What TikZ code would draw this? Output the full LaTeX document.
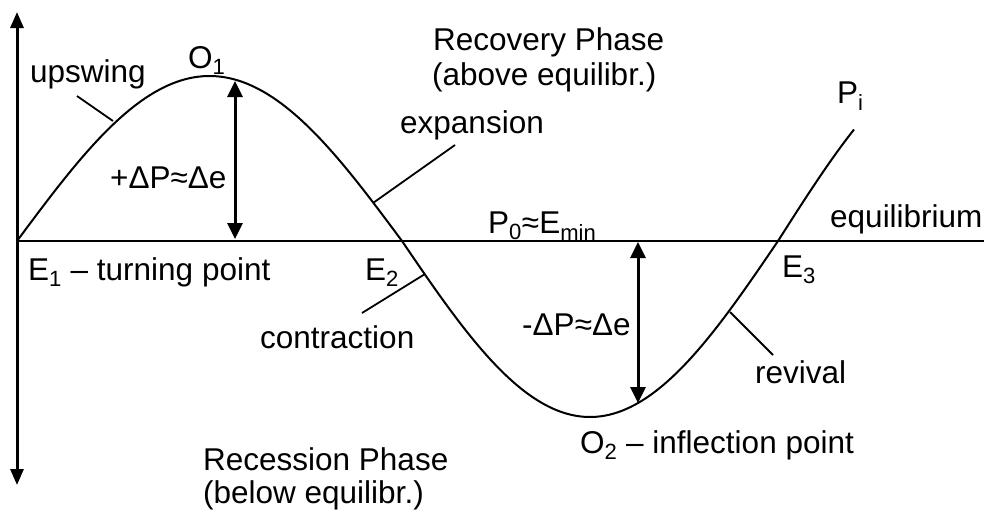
\documentclass[tikz,border=0pt]{standalone}
\usepackage{fontspec}
\setmainfont{Liberation Sans}
\usetikzlibrary{arrows.meta}
\begin{document}
\begin{tikzpicture}[x=1pt,y=-1pt,
  lbl/.style={inner sep=0pt, anchor=base west, font=\fontsize{31.5}{37.8}\selectfont},
  curve/.style={line width=2pt},
  leader/.style={line width=1.8pt},
  axis/.style={line width=3pt, {Triangle[width=13pt,length=16pt]}-{Triangle[width=13pt,length=16pt]}},
  eqline/.style={line width=2.5pt},
  dbl/.style={line width=3pt, {Triangle[width=15pt,length=16pt]}-{Triangle[width=15pt,length=16pt]}}
]
\useasboundingbox (0,0) rectangle (984,512);

% key coordinates
\coordinate (ytop) at (17,12);
\coordinate (ybot) at (17,485);
\coordinate (E1) at (17,241);
\coordinate (eqend) at (984,241);
\coordinate (E2) at (402,241);
\coordinate (E3) at (778,241);

% axes
\draw[axis] (ytop) -- (ybot);
\draw[eqline] (E1) -- (eqend);

% curve
\draw[curve] plot[domain=17:402, samples=90] (\x, {241-165*sin((\x-17)/385*180)});
\draw[curve] plot[domain=402:778, samples=90] (\x, {241+176*sin((\x-402)/376*180)});
\draw[curve] plot[domain=778:854, samples=30] (\x, {241-188*sin((\x-778)/376*180)});

% double arrows
\coordinate (a1top) at (235,81);
\coordinate (a1bot) at (235,239);
\coordinate (a2top) at (638,242);
\coordinate (a2bot) at (638,403);
\draw[dbl] (a1top) -- (a1bot);
\draw[dbl] (a2top) -- (a2bot);

% leader lines
\coordinate (upA) at (77,96);   \coordinate (upB) at (113,121);
\coordinate (exA) at (455,145); \coordinate (exB) at (373,203);
\coordinate (coA) at (362,313); \coordinate (coB) at (425,274);
\coordinate (reA) at (730,312); \coordinate (reB) at (773,355);
\draw[leader] (upA) -- (upB);
\draw[leader] (exA) -- (exB);
\draw[leader] (coA) -- (coB);
\draw[leader] (reA) -- (reB);

% labels
\node[lbl] (tUp) at (30,82) {upswing};
\node[lbl] (tO1) at (188,68) {O\textsubscript{1}};
\node[lbl] (tDp) at (110,188) {+ΔP≈Δe};
\node[lbl] (tRec1) at (433,50) {Recovery Phase};
\node[lbl] (tRec2) at (432,85) {(above equilibr.)};
\node[lbl] (tExp) at (400,133) {expansion};
\node[lbl] (tP0) at (488,233) {P\textsubscript{0}≈E\textsubscript{min}};
\node[lbl] (tPi) at (837,103) {P\textsubscript{i}};
\node[lbl] (tEq) at (830,227) {equilibrium};
\node[lbl] (tE1) at (28,280) {E\textsubscript{1} – turning point};
\node[lbl] (tE2) at (365,280) {E\textsubscript{2}};
\node[lbl] (tE3) at (782,277) {E\textsubscript{3}};
\node[lbl] (tCon) at (260,348) {contraction};
\node[lbl] (tRs1) at (203,470) {Recession Phase};
\node[lbl] (tRs2) at (203,503) {(below equilibr.)};
\node[lbl] (tDm) at (522,335) {-ΔP≈Δe};
\node[lbl] (tRev) at (755,383) {revival};
\node[lbl] (tO2) at (580,453) {O\textsubscript{2} – inflection point};
\end{tikzpicture}
\end{document}
